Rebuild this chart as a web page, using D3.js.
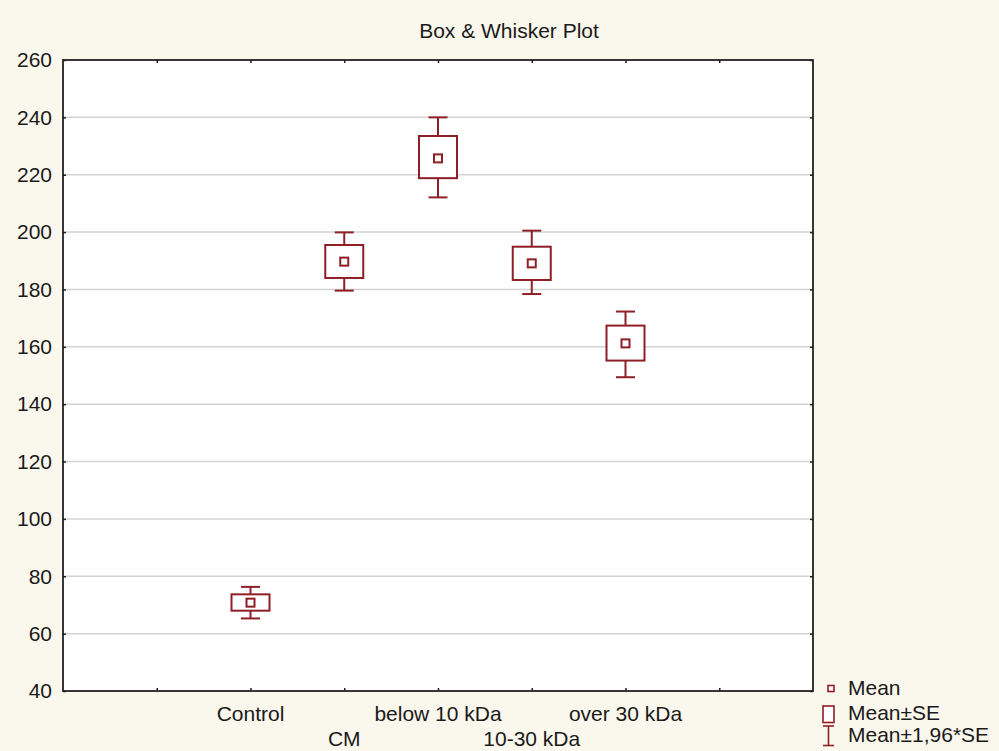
<!DOCTYPE html>
<html><head><meta charset="utf-8">
<script src="https://cdn.jsdelivr.net/npm/d3@7"></script>
<style>
html,body{margin:0;padding:0;background:#faf7ec;}
svg{display:block;font-family:"Liberation Sans",Arial,sans-serif;}
</style></head>
<body>
<svg id="chart" width="999" height="751"></svg>
<script>
const categories = ["Control", "CM", "below 10 kDa", "10-30 kDa", "over 30 kDa"];
const means  = [70.8, 189.7, 225.7, 189.1, 161.2];
const seLow  = [68.0, 184.0, 218.8, 183.3, 155.2];
const seHigh = [73.7, 195.5, 233.5, 194.9, 167.4];
const ciLow  = [65.3, 179.6, 212.1, 178.4, 149.4];
const ciHigh = [76.3, 199.9, 240.0, 200.5, 172.3];
const yTicks = [40, 60, 80, 100, 120, 140, 160, 180, 200, 220, 240, 260];
const title = "Box & Whisker Plot";
const legendLabels = ["Mean", "Mean±SE", "Mean±1,96*SE"];

const RED = "#8e1f27";
const svg = d3.select("#chart");
const L = 63, R = 813, T = 60, B = 691;

const slots = ["_a"].concat(categories, ["_b"]);
const x = d3.scalePoint().domain(slots).range([L, R]).padding(1);
const y = d3.scaleLinear().domain([40, 260]).range([B, T]);

// plot background
svg.append("rect").attr("x", L).attr("y", T).attr("width", R - L).attr("height", B - T).attr("fill", "#ffffff");

// gridlines
svg.append("g").selectAll("line").data(yTicks.filter(d => d > 40 && d < 260)).join("line")
  .attr("x1", L).attr("x2", R).attr("y1", d => y(d)).attr("y2", d => y(d))
  .attr("stroke", "#d3d3d3").attr("stroke-width", 1.5);

// axes
const fs = "21px";
const gy = svg.append("g").attr("transform", `translate(${L},0)`)
  .call(d3.axisLeft(y).tickValues(yTicks).tickSizeInner(-3).tickSizeOuter(0).tickPadding(11));
const gyr = svg.append("g").attr("transform", `translate(${R},0)`)
  .call(d3.axisRight(y).tickValues(yTicks).tickSizeInner(-3).tickSizeOuter(0).tickFormat(""));
const gxb = svg.append("g").attr("transform", `translate(0,${B})`)
  .call(d3.axisBottom(x).tickSizeInner(-3).tickSizeOuter(0).tickFormat(""));
const gxt = svg.append("g").attr("transform", `translate(0,${T})`)
  .call(d3.axisTop(x).tickSizeInner(-3).tickSizeOuter(0).tickFormat(""));
[gy, gyr, gxb, gxt].forEach(g => {
  g.select(".domain").remove();
  g.selectAll(".tick line").attr("stroke", "#222").attr("stroke-width", 1.5);
});
gy.selectAll(".tick text").attr("font-size", fs).attr("fill", "#1a1a1a")
  .attr("font-family", "'Liberation Sans', Arial, sans-serif");

// frame
svg.append("rect").attr("x", L).attr("y", T).attr("width", R - L).attr("height", B - T)
  .attr("fill", "none").attr("stroke", "#222").attr("stroke-width", 1.8);

// category labels (alternating rows)
svg.append("g").selectAll("text").data(categories).join("text")
  .attr("x", d => x(d)).attr("y", (d, i) => i % 2 === 0 ? 721 : 746)
  .attr("text-anchor", "middle").attr("font-size", fs).attr("fill", "#1a1a1a").text(d => d);

// title
svg.append("text").attr("x", 509).attr("y", 38).attr("text-anchor", "middle")
  .attr("font-size", fs).attr("fill", "#1a1a1a").text(title);

// boxes
const data = categories.map((c, i) => ({c, m: means[i], sl: seLow[i], sh: seHigh[i], cl: ciLow[i], ch: ciHigh[i]}));
const bw = 38, cw = 19, mw = 8;
const g = svg.append("g").attr("stroke", RED).attr("stroke-width", 2).attr("fill", "none");
const item = g.selectAll("g").data(data).join("g");
item.append("line").attr("x1", d => x(d.c)).attr("x2", d => x(d.c)).attr("y1", d => y(d.ch)).attr("y2", d => y(d.sh));
item.append("line").attr("x1", d => x(d.c)).attr("x2", d => x(d.c)).attr("y1", d => y(d.sl)).attr("y2", d => y(d.cl));
item.append("line").attr("x1", d => x(d.c) - cw / 2).attr("x2", d => x(d.c) + cw / 2).attr("y1", d => y(d.ch)).attr("y2", d => y(d.ch));
item.append("line").attr("x1", d => x(d.c) - cw / 2).attr("x2", d => x(d.c) + cw / 2).attr("y1", d => y(d.cl)).attr("y2", d => y(d.cl));
item.append("rect").attr("x", d => x(d.c) - bw / 2).attr("width", bw)
  .attr("y", d => y(d.sh)).attr("height", d => y(d.sl) - y(d.sh)).attr("fill", "#fff");
item.append("rect").attr("x", d => x(d.c) - mw / 2).attr("width", mw)
  .attr("y", d => y(d.m) - mw / 2).attr("height", mw).attr("fill", "#fff");

// legend
const lg = svg.append("g");
lg.append("rect").attr("x", 828).attr("y", 685.5).attr("width", 6).attr("height", 6)
  .attr("fill", "#fff").attr("stroke", RED).attr("stroke-width", 1.6);
lg.append("rect").attr("x", 823).attr("y", 706).attr("width", 11).attr("height", 16.5)
  .attr("fill", "#fff").attr("stroke", RED).attr("stroke-width", 1.6);
lg.append("line").attr("x1", 823).attr("x2", 834).attr("y1", 726).attr("y2", 726).attr("stroke", RED).attr("stroke-width", 1.6);
lg.append("line").attr("x1", 823).attr("x2", 834).attr("y1", 745.5).attr("y2", 745.5).attr("stroke", RED).attr("stroke-width", 1.6);
lg.append("line").attr("x1", 828.5).attr("x2", 828.5).attr("y1", 726).attr("y2", 745.5).attr("stroke", RED).attr("stroke-width", 1.6);
lg.selectAll("text").data(legendLabels).join("text")
  .attr("x", 848).attr("y", (d, i) => [695, 719.5, 742][i])
  .attr("font-size", fs).attr("fill", "#1a1a1a").text(d => d);
</script>
</body></html>
